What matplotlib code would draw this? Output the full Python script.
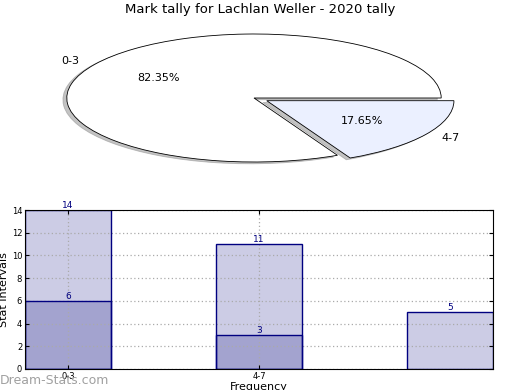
import numpy as np
import matplotlib
matplotlib.use("Agg")
import matplotlib.pyplot as plt

# data
pie_labels = ["0-3", "4-7"]
pie_values = [14, 3]
pie_colors = ["white", "#ebf0ff"]

bar_labels = ["0-3", "4-7"]
total_counts = [14, 11, 5]
sub_counts = [6, 3]

title = "Mark tally for Lachlan Weller - 2020 tally"
navy = "#000080"

fig = plt.figure(figsize=(5.2, 3.9), dpi=100)

# pie (stretched into an ellipse, like the old style)
ax1 = fig.add_axes([20 / 520, 1 - 178 / 390, 468 / 520, 160 / 390])
wedges, texts, autotexts = ax1.pie(pie_values, labels=pie_labels, colors=pie_colors,
                                   explode=[0, 0.08], shadow=dict(ox=-0.015, oy=-0.02, color="#888888"),
                                   autopct="%.2f%%", startangle=0,
                                   wedgeprops=dict(edgecolor="black", linewidth=0.6),
                                   textprops=dict(fontsize=8))
ax1.set_aspect("auto")
ax1.set_xlim(-1.25, 1.25)
ax1.set_ylim(-1.25, 1.25)
fig.text(0.5, 1 - 10 / 390, title, ha="center", va="center", fontsize=9.5)

# bars: fill below the grid, outlines above it
ax2 = fig.add_axes([25 / 520, 1 - 369 / 390, 468 / 520, 159 / 390])
x = np.arange(len(total_counts))
xs = x[:len(sub_counts)]
w = 0.45
ax2.bar(x, total_counts, width=w, color="#ccccE5", linewidth=0, zorder=1)
ax2.bar(xs, sub_counts, width=w, color="#a3a3cf", linewidth=0, zorder=1)
ax2.bar(x, total_counts, width=w, fill=False, edgecolor=navy, linewidth=1, zorder=3)
ax2.bar(xs, sub_counts, width=w, fill=False, edgecolor=navy, linewidth=1, zorder=3)
for xi, v in zip(x, total_counts):
    ax2.text(xi, v, str(v), ha="center", va="bottom", fontsize=6.5, color=navy)
for xi, v in zip(xs, sub_counts):
    ax2.text(xi, v, str(v), ha="center", va="bottom", fontsize=6.5, color=navy)

ax2.set_xlim(-w / 2, len(total_counts) - 1 + w / 2)
ax2.set_ylim(0, 14)
ax2.set_yticks(np.arange(0, 15, 2))
ax2.set_xticks(xs[:len(bar_labels)])
ax2.set_xticklabels(bar_labels)
ax2.tick_params(labelsize=6, direction="in", length=3, top=True, right=True, pad=2)
ax2.grid(True, linestyle=(0, (1, 2)), color="#aaaaaa", linewidth=0.9, zorder=2)
ax2.set_axisbelow(False)
for sp in ax2.spines.values():
    sp.set_zorder(4)
ax2.set_ylabel("Stat Intervals", fontsize=8, labelpad=2)
ax2.set_xlabel("Frequency", fontsize=8, labelpad=1)

fig.text(0 / 520, 1 - 380 / 390, "Dream-Stats.com", ha="left", va="center",
         fontsize=9, color="#a0a0a0")

fig.savefig("out.png", dpi=100)
